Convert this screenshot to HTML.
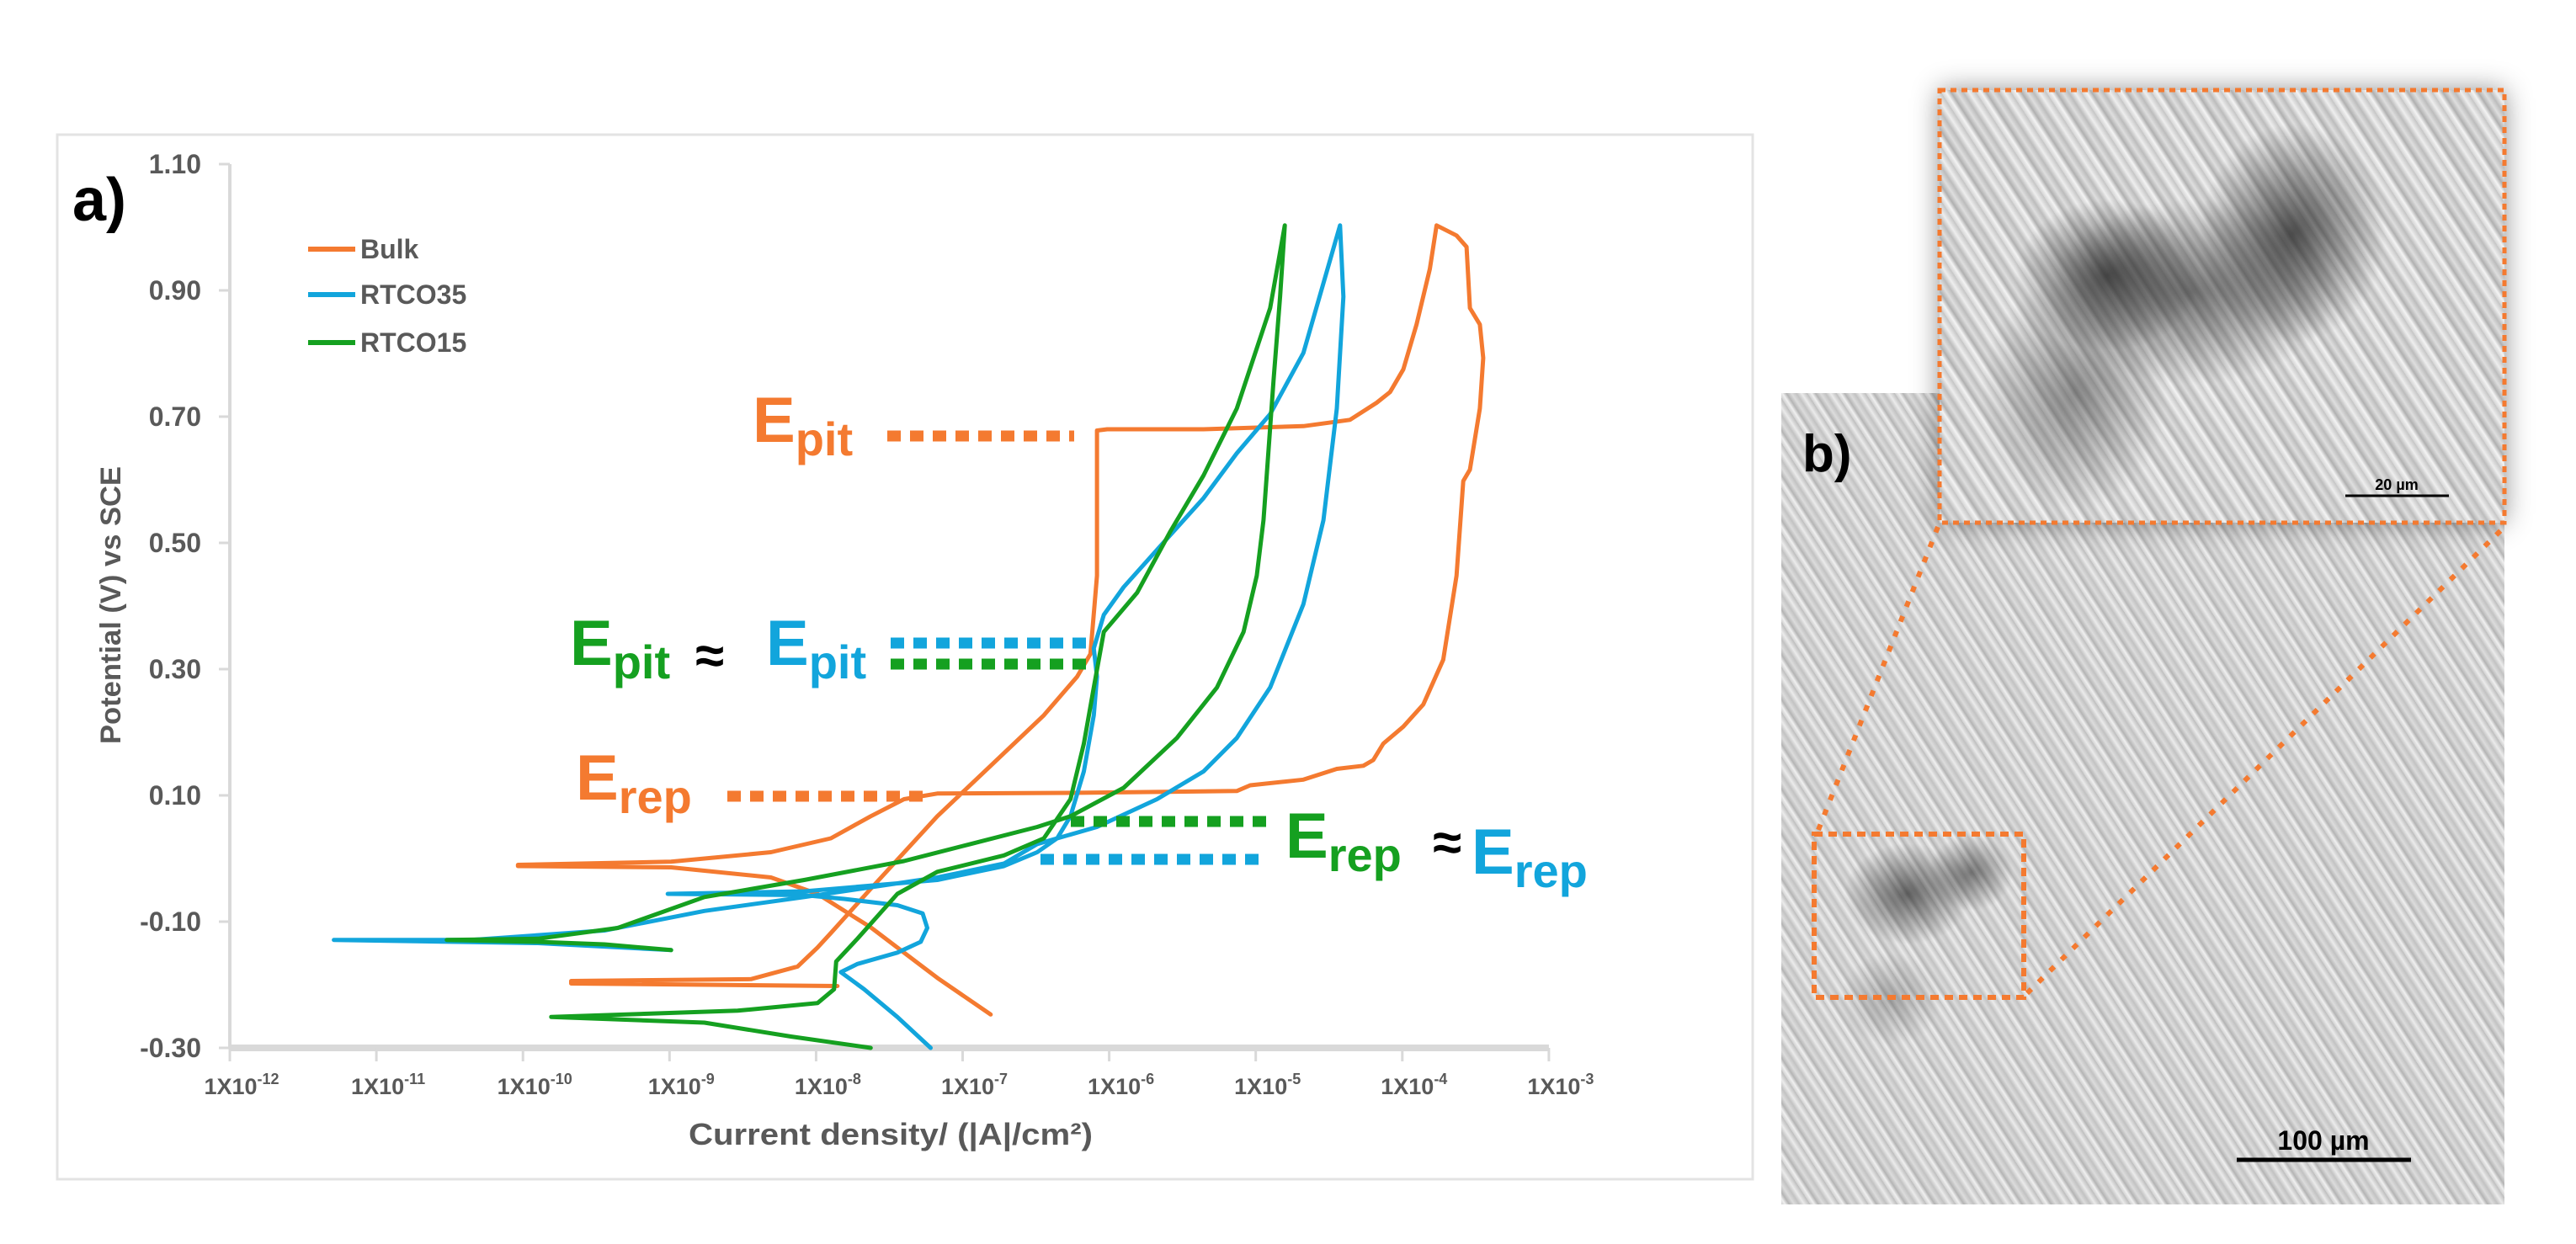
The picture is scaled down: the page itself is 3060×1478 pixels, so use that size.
<!DOCTYPE html>
<html><head><meta charset="utf-8"><style>
html,body{margin:0;padding:0;background:#fff;}
#wrap{position:relative;width:3060px;height:1478px;overflow:hidden;font-family:"Liberation Sans",sans-serif;}
#micro{position:absolute;left:2116px;top:467px;width:859px;height:964px;
background:
radial-gradient(ellipse 75px 60px at 150px 595px, rgba(50,50,50,.7), rgba(60,60,60,0) 100%),
radial-gradient(ellipse 50px 45px at 225px 570px, rgba(50,50,50,.6), rgba(60,60,60,0) 100%),
radial-gradient(ellipse 60px 55px at 130px 720px, rgba(80,80,80,.35), rgba(80,80,80,0) 100%),
repeating-linear-gradient(57deg,#d0d0d0 0px,#f0f0f0 4px,#b4b4b4 8px,#dcdcdc 13px,#c2c2c2 18px,#ebebeb 23px,#bdbdbd 29px);}
#inset{position:absolute;left:2304px;top:107px;width:671px;height:514px;box-shadow:0 0 30px rgba(0,0,0,.45);
background:
radial-gradient(ellipse 110px 90px at 200px 220px, rgba(45,45,45,.8), rgba(50,50,50,0) 100%),
radial-gradient(ellipse 110px 130px at 420px 170px, rgba(45,45,45,.8), rgba(50,50,50,0) 100%),
radial-gradient(ellipse 170px 110px at 300px 240px, rgba(55,55,55,.65), rgba(50,50,50,0) 100%),
radial-gradient(ellipse 110px 140px at 160px 360px, rgba(70,70,70,.55), rgba(60,60,60,0) 100%),
repeating-linear-gradient(57deg,#d4d4d4 0px,#f4f4f4 5px,#b0b0b0 10px,#dedede 16px,#bcbcbc 22px,#eeeeee 28px,#c4c4c4 35px);}
</style></head><body>
<div id="wrap">
<div id="micro"></div>
<div id="inset"></div>
<svg id="svg" width="3060" height="1478" style="position:absolute;left:0;top:0">
<rect x="68" y="160" width="2014" height="1241" fill="#fff" stroke="#e3e3e3" stroke-width="3"/>
<text x="86" y="262" font-size="72" font-weight="bold" fill="#000">a)</text>
<g id="axes"></g>
<g id="curves"></g>
<g id="annot">
<line x1="1054" y1="518" x2="1276" y2="518" stroke="#F47A30" stroke-width="13" stroke-dasharray="16 11"/>
<line x1="1058" y1="764" x2="1291" y2="764" stroke="#12A5DC" stroke-width="13" stroke-dasharray="16 11"/>
<line x1="1058" y1="789" x2="1291" y2="789" stroke="#15A020" stroke-width="13" stroke-dasharray="16 11"/>
<line x1="864" y1="946" x2="1098" y2="946" stroke="#F47A30" stroke-width="13" stroke-dasharray="16 11"/>
<line x1="1272" y1="976" x2="1505" y2="976" stroke="#15A020" stroke-width="13" stroke-dasharray="16 11"/>
<line x1="1236" y1="1021" x2="1505" y2="1021" stroke="#12A5DC" stroke-width="13" stroke-dasharray="16 11"/>
<g font-weight="bold">
<text x="894" y="525" font-size="76" fill="#F47A30">E<tspan font-size="56" dy="16">pit</tspan></text>
<text x="677" y="790" font-size="76" fill="#15A020">E<tspan font-size="56" dy="16">pit</tspan></text>
<text x="826" y="800" font-size="62" fill="#000">≈</text>
<text x="910" y="790" font-size="76" fill="#12A5DC">E<tspan font-size="56" dy="16">pit</tspan></text>
<text x="684" y="950" font-size="76" fill="#F47A30">E<tspan font-size="56" dy="16">rep</tspan></text>
<text x="1527" y="1019" font-size="76" fill="#15A020">E<tspan font-size="56" dy="16">rep</tspan></text>
<text x="1702" y="1022" font-size="62" fill="#000">≈</text>
<text x="1748" y="1038" font-size="76" fill="#12A5DC">E<tspan font-size="56" dy="16">rep</tspan></text>
</g>
</g>
<g>
<rect x="2304" y="107" width="671" height="514" fill="none" stroke="#F47A30" stroke-width="5" stroke-dasharray="7 6"/>
<rect x="2155" y="991" width="249" height="194" fill="none" stroke="#F47A30" stroke-width="6" stroke-dasharray="10 7"/>
<line x1="2160" y1="986" x2="2304" y2="621" stroke="#F47A30" stroke-width="6" stroke-dasharray="7 12"/>
<line x1="2408" y1="1180" x2="2975" y2="626" stroke="#F47A30" stroke-width="6" stroke-dasharray="7 12"/>
<text x="2141" y="560" font-size="62" font-weight="bold" fill="#000">b)</text>
<line x1="2657" y1="1378" x2="2864" y2="1378" stroke="#000" stroke-width="5"/>
<text x="2760" y="1366" font-size="32" font-weight="bold" text-anchor="middle" fill="#000">100 µm</text>
<line x1="2786" y1="589" x2="2909" y2="589" stroke="#000" stroke-width="3"/>
<text x="2847" y="582" font-size="18" font-weight="bold" text-anchor="middle" fill="#000">20 µm</text>
</g>
</svg>
</div>
<script>
// ---- data (log10 current density, potential V vs SCE) ----
const yTicks = [1.10, 0.90, 0.70, 0.50, 0.30, 0.10, -0.10, -0.30];
const yTickLabels = ["1.10","0.90","0.70","0.50","0.30","0.10","-0.10","-0.30"];
const xTicks = [-12,-11,-10,-9,-8,-7,-6,-5,-4,-3];
const xTickExp = ["-12","-11","-10","-9","-8","-7","-6","-5","-4","-3"];
const seriesNames = ["Bulk","RTCO35","RTCO15"];
const bulk = [[-7.854,-0.202],[-9.671,-0.198],[-9.671,-0.194],[-8.444,-0.191],[-8.126,-0.171],[-7.990,-0.141],[-7.899,-0.118],[-7.627,-0.048],[-7.173,0.067],[-6.809,0.147],[-6.446,0.227],[-6.219,0.288],[-6.128,0.324],[-6.083,0.448],[-6.083,0.678],[-6.014,0.680],[-5.356,0.680],[-4.675,0.685],[-4.357,0.695],[-4.175,0.722],[-4.084,0.739],[-3.993,0.775],[-3.903,0.846],[-3.812,0.934],[-3.766,1.003],[-3.630,0.987],[-3.562,0.969],[-3.539,0.872],[-3.471,0.846],[-3.448,0.793],[-3.471,0.713],[-3.539,0.616],[-3.584,0.598],[-3.630,0.448],[-3.721,0.315],[-3.857,0.244],[-3.993,0.209],[-4.130,0.182],[-4.198,0.156],[-4.266,0.147],[-4.447,0.142],[-4.675,0.125],[-5.038,0.116],[-5.129,0.107],[-6.264,0.104],[-7.173,0.103],[-7.400,0.094],[-7.627,0.067],[-7.899,0.032],[-8.308,0.010],[-8.989,-0.005],[-10.034,-0.010],[-10.034,-0.012],[-8.989,-0.014],[-8.308,-0.030],[-7.990,-0.056],[-7.627,-0.109],[-7.173,-0.189],[-6.809,-0.247]];
const rtco35 = [[-7.218,-0.300],[-7.445,-0.251],[-7.672,-0.207],[-7.831,-0.180],[-7.718,-0.167],[-7.445,-0.149],[-7.286,-0.132],[-7.241,-0.110],[-7.273,-0.087],[-7.445,-0.074],[-7.808,-0.064],[-8.081,-0.058],[-9.012,-0.056],[-8.081,-0.052],[-7.173,-0.034],[-6.718,-0.012],[-6.491,0.010],[-6.355,0.032],[-6.264,0.067],[-6.173,0.138],[-6.105,0.227],[-6.083,0.288],[-6.105,0.333],[-6.037,0.386],[-5.901,0.430],[-5.628,0.501],[-5.356,0.571],[-5.129,0.642],[-4.902,0.704],[-4.675,0.801],[-4.425,1.003],[-4.402,0.890],[-4.447,0.713],[-4.538,0.536],[-4.675,0.403],[-4.902,0.271],[-5.129,0.191],[-5.356,0.138],[-5.674,0.094],[-6.083,0.050],[-6.491,0.023],[-6.718,-0.008],[-7.173,-0.030],[-8.081,-0.061],[-8.762,-0.083],[-9.444,-0.114],[-10.352,-0.129],[-11.29,-0.129],[-9.898,-0.134],[-8.989,-0.145]];
const rtco15 = [[-7.627,-0.300],[-8.172,-0.282],[-8.762,-0.260],[-9.807,-0.251],[-8.535,-0.241],[-7.990,-0.229],[-7.877,-0.207],[-7.863,-0.163],[-7.718,-0.127],[-7.445,-0.056],[-7.173,-0.021],[-6.718,0.005],[-6.446,0.032],[-6.264,0.094],[-6.173,0.182],[-6.105,0.271],[-6.037,0.359],[-5.810,0.421],[-5.583,0.518],[-5.356,0.607],[-5.129,0.713],[-4.902,0.872],[-4.802,1.003],[-4.834,0.890],[-4.879,0.757],[-4.947,0.536],[-4.993,0.448],[-5.083,0.359],[-5.265,0.271],[-5.538,0.191],[-5.901,0.112],[-6.264,0.067],[-6.491,0.050],[-6.946,0.023],[-7.400,-0.004],[-8.081,-0.034],[-8.762,-0.061],[-9.353,-0.110],[-9.898,-0.127],[-10.52,-0.129],[-9.898,-0.132],[-9.444,-0.136],[-8.989,-0.145]];

const NS = "http://www.w3.org/2000/svg";
const X0 = 273, XW = 174.1, Y0 = 195, YS = 750;
function xs(l){ return X0 + (l + 12) * XW; }
function ys(v){ return Y0 + (1.10 - v) * YS; }
function mk(tag, attrs, parent){ const e = document.createElementNS(NS, tag); for (const k in attrs) e.setAttribute(k, attrs[k]); parent.appendChild(e); return e; }

const axes = document.getElementById('axes');
const yl = mk('line', {x1:X0, y1:ys(1.10), x2:X0, y2:ys(-0.30), stroke:'#d9d9d9', 'stroke-width':4}, axes);


const xl = mk('line', {x1:X0, y1:ys(-0.30), x2:xs(-3), y2:ys(-0.30), stroke:'#d9d9d9', 'stroke-width':8}, axes);


yTicks.forEach((v, i) => {
  const t = mk('line', {x1:X0-13, y1:ys(v), x2:X0, y2:ys(v), stroke:'#d9d9d9', 'stroke-width':3}, axes);
  
  
  const tx = mk('text', {x:239, y:ys(v)+11, 'font-size':32, 'font-weight':'bold', fill:'#595959', 'text-anchor':'end'}, axes);
  tx.textContent = yTickLabels[i];
  
  
});
xTicks.forEach((l, i) => {
  const t = mk('line', {x1:xs(l), y1:ys(-0.30), x2:xs(l), y2:ys(-0.30)+16, stroke:'#d9d9d9', 'stroke-width':3}, axes);
  
  
  const tx = mk('text', {x:xs(l)+14, y:1300, 'font-size':27, fill:'#595959', 'text-anchor':'middle', 'font-weight':'bold'}, axes);
  tx.textContent = '1X10';
  const sp = mk('tspan', {'font-size':18, dy:-12}, tx);
  sp.textContent = xTickExp[i];
  
  
});
const xt = mk('text', {x:1058, y:1360, 'font-size':36, 'font-weight':'bold', fill:'#595959', 'text-anchor':'middle', textLength:480, lengthAdjust:'spacingAndGlyphs'}, axes);
xt.textContent = 'Current density/ (|A|/cm²)';


const yt = mk('text', {x:0, y:0, 'font-size':34, 'font-weight':'bold', fill:'#595959', 'text-anchor':'middle', transform:'translate(143,719) rotate(-90)', textLength:330, lengthAdjust:'spacingAndGlyphs'}, axes);
yt.textContent = 'Potential (V) vs SCE';



const colors = ['#F47A30', '#12A5DC', '#15A020'];
const legendY = [296, 350, 407];
seriesNames.forEach((n, i) => {
  const g = mk('g', {}, axes);
  
  
  mk('line', {x1:366, y1:legendY[i], x2:422, y2:legendY[i], stroke:colors[i], 'stroke-width':6}, g);
  const tx = mk('text', {x:428, y:legendY[i]+11, 'font-size':32, 'font-weight':'bold', fill:'#595959'}, g);
  tx.textContent = n;
});

const curves = document.getElementById('curves');
const data = [bulk, rtco35, rtco15];
const names = ['curve-bulk', 'curve-rtco35', 'curve-rtco15'];
data.forEach((pts, i) => {
  const d = pts.map((p, j) => (j ? 'L' : 'M') + xs(p[0]).toFixed(1) + ',' + ys(p[1]).toFixed(1)).join(' ');
  const p = mk('path', {d:d, fill:'none', stroke:colors[i], 'stroke-width':5, 'stroke-linejoin':'round', 'stroke-linecap':'round'}, curves);
  
  
});
</script>
</body></html>
